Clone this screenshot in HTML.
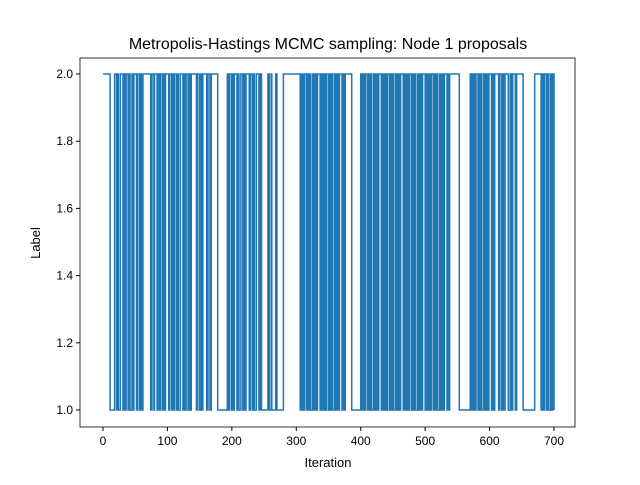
<!DOCTYPE html>
<html><head><meta charset="utf-8"><style>
body{margin:0;background:#fff;}
svg text{font-family:"Liberation Sans","DejaVu Sans",sans-serif;fill:#000;}
</style></head><body>
<svg width="640" height="480" viewBox="0 0 640 480">
<rect x="0" y="0" width="640" height="480" fill="#fff"/>
<g id="plot"></g>
<g id="axes"></g>
<text x="328" y="49" font-size="16" text-anchor="middle">Metropolis-Hastings MCMC sampling: Node 1 proposals</text>
<text x="328" y="467" font-size="13" text-anchor="middle">Iteration</text>
<text x="40" y="243" font-size="13" text-anchor="middle" transform="rotate(-90 40 243)">Label</text>
</svg>
<script>
const runLengths=[11,7,
3,2,1,3,4,1,2,2,3,1,2,3,1,2,4,2,3,1,2,2,
12,2,3,1,4,2,2,1,3,2,1,2,5,1,3,2,
2,1,3,2,1,3,4,1,2,2,3,1,2,2,8,2,3,1,2,2,6,2,3,
2,10,15,
2,1,3,2,1,2,4,1,2,3,3,1,2,2,5,2,3,1,2,3,4,2,2,
10,2,3,1,6,2,10,
26,
1,2,2,1,1,3,2,1,1,2,3,1,1,2,2,1,1,4,2,1,
1,2,2,1,1,3,2,1,1,2,3,1,1,2,2,1,1,4,2,1,
2,10,14,1,
1,2,2,1,1,3,2,1,1,2,3,1,1,2,2,1,1,4,2,1,
1,2,2,1,1,3,2,1,1,2,3,1,1,2,2,1,1,4,2,1,
1,2,2,1,1,3,2,1,1,2,3,1,1,2,2,1,1,4,2,1,
1,2,2,1,1,3,2,1,1,2,3,1,1,2,2,1,1,4,2,1,
1,15,17,2,
1,2,2,1,1,3,2,1,1,2,3,1,1,2,2,1,1,4,2,1,
2,6,2,3,1,2,2,5,3,2,2,4,
2,10,18,10,
2,1,2,3,1,2,3,2,2,2,2,3];
const runStart=2;
const nPoints=701;
const xTicks=[0,100,200,300,400,500,600,700];
const yTicks=[1.0,1.2,1.4,1.6,1.8,2.0];
const NS='http://www.w3.org/2000/svg';
const L=80,T=58,R=575,B=427;
function xs(v){return 103+v*(554-103)/700;}
function ys(v){return 410-(v-1)*(410-74);}
let vals=[];let cur=runStart;
for(const n of runLengths){for(let k=0;k<n;k++)vals.push(cur);cur=cur===2?1:2;}
vals=vals.slice(0,nPoints);
let d='';
vals.forEach((v,i)=>{if(i===0)d+='M'+xs(0)+' '+ys(v);else{d+=' L'+xs(i)+' '+ys(vals[i-1])+' L'+xs(i)+' '+ys(v);}});
const plot=document.getElementById('plot');
const p=document.createElementNS(NS,'path');
p.setAttribute('d',d);p.setAttribute('fill','none');p.setAttribute('stroke','#1f77b4');p.setAttribute('stroke-width','1.5');


plot.appendChild(p);
const ax=document.getElementById('axes');
const fr=document.createElementNS(NS,'rect');
fr.setAttribute('x',L);fr.setAttribute('y',T);fr.setAttribute('width',R-L);fr.setAttribute('height',B-T);
fr.setAttribute('fill','none');fr.setAttribute('stroke','#000');fr.setAttribute('stroke-width','0.8');


ax.appendChild(fr);
xTicks.forEach(t=>{
 const l=document.createElementNS(NS,'line');
 l.setAttribute('x1',xs(t));l.setAttribute('x2',xs(t));l.setAttribute('y1',B);l.setAttribute('y2',B+4);l.setAttribute('stroke','#000');
 
 
 ax.appendChild(l);
 const tx=document.createElementNS(NS,'text');
 tx.setAttribute('x',xs(t));tx.setAttribute('y',B+18);tx.setAttribute('font-size','12');tx.setAttribute('text-anchor','middle');
 tx.textContent=t;
 
 
 ax.appendChild(tx);
});
yTicks.forEach(t=>{
 const l=document.createElementNS(NS,'line');
 l.setAttribute('x1',L-4);l.setAttribute('x2',L);l.setAttribute('y1',ys(t));l.setAttribute('y2',ys(t));l.setAttribute('stroke','#000');
 
 
 ax.appendChild(l);
 const tx=document.createElementNS(NS,'text');
 tx.setAttribute('x',L-7);tx.setAttribute('y',ys(t)+4);tx.setAttribute('font-size','12');tx.setAttribute('text-anchor','end');
 tx.textContent=t.toFixed(1);
 
 
 ax.appendChild(tx);
});
</script>
</body></html>
